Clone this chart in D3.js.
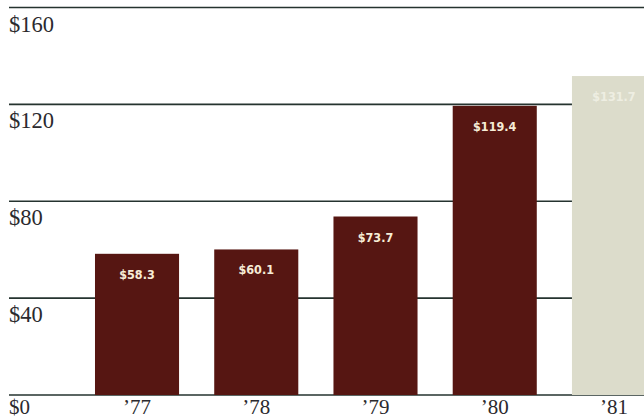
<!DOCTYPE html>
<html>
<head>
<meta charset="utf-8">
<script src="https://cdn.jsdelivr.net/npm/d3@7"></script>
<style>
  html, body { margin: 0; padding: 0; background: #ffffff; }
  svg { display: block; }
</style>
</head>
<body>
<script>
// Annual figures, in dollars
const years = ["’77", "’78", "’79", "’80", "’81"];
const values = [58.3, 60.1, 73.7, 119.4, 131.7];
const valueLabels = ["$58.3", "$60.1", "$73.7", "$119.4", "$131.7"];
const tickValues = [0, 40, 80, 120, 160];
const tickLabels = ["$0", "$40", "$80", "$120", "$160"];

const W = 644, H = 419;
const svg = d3.select("body").append("svg")
  .attr("width", W).attr("height", H);

const y = d3.scaleLinear().domain([0, 160]).range([395, 7.5]);
const x = d3.scaleBand().domain(years)
  .range([77.4, 673.6])
  .paddingInner(0.295)
  .paddingOuter(0.1475);

// Horizontal rules with dollar labels beneath them
const grid = svg.append("g");
grid.selectAll("line").data(tickValues).join("line")
  .attr("x1", 9).attr("x2", W)
  .attr("y1", d => y(d)).attr("y2", d => y(d))
  .attr("stroke", "#25332f").attr("stroke-width", 1.6);

grid.selectAll("text").data(tickValues).join("text")
  .attr("x", 9)
  .attr("y", d => Math.min(y(d) + 24, 414))
  .attr("font-family", "'Liberation Serif', 'DejaVu Serif', serif")
  .attr("font-size", d => d === 0 ? 21 : 22.5)
  .attr("fill", "#2b2a2e")
  .text((d, i) => tickLabels[i]);

// Bars: past years in maroon, the latest year in pale stone
const isLast = i => i === years.length - 1;
svg.append("g").selectAll("rect").data(values).join("rect")
  .attr("x", (d, i) => x(years[i]))
  .attr("width", x.bandwidth())
  .attr("y", d => y(d))
  .attr("height", d => y(0) - y(d))
  .attr("fill", (d, i) => isLast(i) ? "#dcdccb" : "#561612");

// Value labels inside the top of each bar
svg.append("g").selectAll("text").data(values).join("text")
  .attr("x", (d, i) => x(years[i]) + x.bandwidth() / 2)
  .attr("y", d => y(d) + 25)
  .attr("text-anchor", "middle")
  .attr("font-family", "'DejaVu Sans', sans-serif")
  .attr("font-weight", "bold")
  .attr("font-stretch", "condensed")
  .attr("font-size", 12.5)
  .attr("fill", (d, i) => isLast(i) ? "#eeeee2" : "#f6ecd6")
  .text((d, i) => valueLabels[i]);

// Year labels along the bottom
svg.append("g").selectAll("text").data(years).join("text")
  .attr("x", d => x(d) + x.bandwidth() / 2)
  .attr("y", 414)
  .attr("text-anchor", "middle")
  .attr("font-family", "'Liberation Serif', 'DejaVu Serif', serif")
  .attr("font-size", 21)
  .attr("fill", "#2b2a2e")
  .text(d => d);
</script>
</body>
</html>
